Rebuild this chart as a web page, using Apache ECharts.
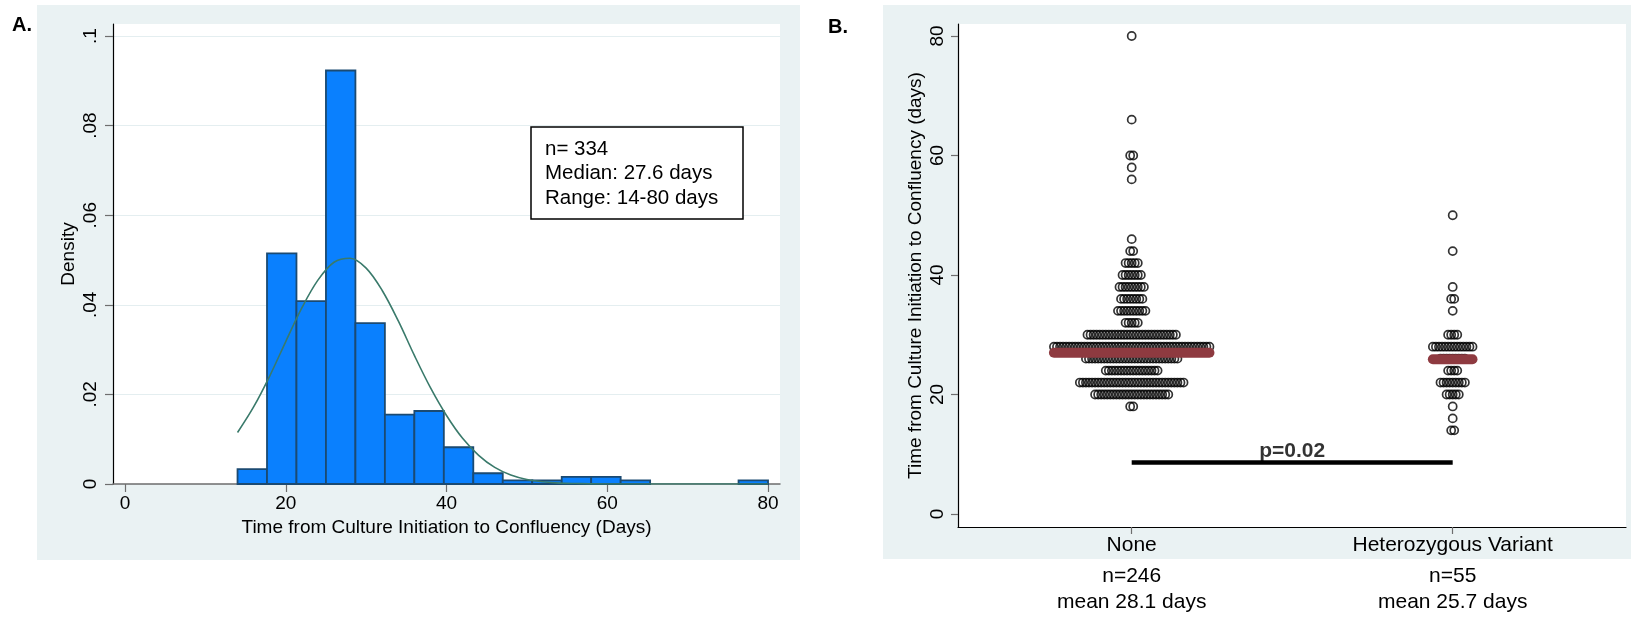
<!DOCTYPE html>
<html><head><meta charset="utf-8">
<script src="https://cdn.jsdelivr.net/npm/echarts@6/dist/echarts.min.js"></script>
<style>html,body{margin:0;padding:0;background:#fff}#c{width:1631px;height:618px}</style>
</head><body><div id="c"></div>
<script>
// ---------- Panel A: histogram ----------
const binEdges = [14, 17.667, 21.333, 25, 28.667, 32.333, 36, 39.667, 43.333, 47, 50.667, 54.333, 58, 61.667, 65.333, 69, 72.667, 76.333, 80];
const binDensity = [0.0033, 0.0515, 0.0408, 0.0923, 0.0359, 0.0155, 0.0163, 0.0082, 0.0024, 0.0008, 0.0008, 0.0016, 0.0016, 0.0008, 0, 0, 0, 0.0008];
const curveX = [14, 16, 18, 20, 22, 24, 26, 28, 30, 32, 34, 36, 38, 40, 42, 44, 46, 48, 50, 52, 54, 56, 60, 70, 80];
const curveY = [0.0115, 0.0172, 0.0241, 0.0318, 0.0393, 0.0455, 0.0495, 0.0504, 0.0482, 0.0432, 0.0364, 0.0287, 0.0215, 0.0153, 0.0102, 0.0064, 0.0037, 0.0020, 0.0010, 0.0005, 0.0002, 0.0001, 0, 0, 0];
const xTicksA = [0, 20, 40, 60, 80];
const yTicksA = [0, 0.02, 0.04, 0.06, 0.08, 0.1];
const annotationLines = ['n= 334', 'Median: 27.6 days', 'Range: 14-80 days'];

// ---------- Panel B: dot plot ----------
const groupNames = ['None', 'Heterozygous Variant'];
const groupN = ['n=246', 'n=55'];
const groupMeanText = ['mean 28.1 days', 'mean 25.7 days'];
const noneValues = [80, 66, 60, 58, 56, 46, 44, 42, 40, 38, 36, 34, 32, 30, 28, 26, 24, 22, 20, 18];
const noneCounts = [1, 1, 2, 1, 1, 1, 2, 5, 7, 9, 8, 10, 5, 30, 52, 31, 18, 35, 25, 2];
const hetValues = [50, 44, 38, 36, 34, 30, 28, 26, 24, 22, 20, 18, 16, 14];
const hetCounts = [1, 1, 1, 2, 1, 4, 14, 9, 4, 9, 5, 1, 1, 2];
const groupLineValues = [27.0, 25.9];
const yTicksB = [0, 20, 40, 60, 80];
const pValueText = 'p=0.02';
const pBarY = 8.6;

const FONT = '"Liberation Sans", Arial, Helvetica, sans-serif';
const dotStep = 0.0095; // horizontal spacing of stacked dots (x-axis units)

const histData = binDensity.map((d, i) => [binEdges[i], binEdges[i + 1], d]);
const curveData = curveX.map((x, i) => [x, curveY[i]]);

function dotRows(center, values, counts) {
  const pts = [];
  values.forEach((v, r) => {
    const n = counts[r];
    for (let i = 0; i < n; i++) pts.push([center + (i - (n - 1) / 2) * dotStep, v]);
  });
  return pts;
}
const noneDots = dotRows(1, noneValues, noneCounts);
const hetDots = dotRows(2, hetValues, hetCounts);
const maxN = [Math.max(...noneCounts), Math.max(...hetCounts)];
const groupLines = [1, 2].map((c, g) => {
  const hw = (maxN[g] - 1) / 2 * dotStep;
  return [[c - hw, groupLineValues[g]], [c + hw, groupLineValues[g]]];
});

const chart = echarts.init(document.getElementById('c'), null, { renderer: 'canvas' });

const greyTick = { color: '#6e6e6e', width: 1.2 };
const option = {
  animation: false,
  backgroundColor: '#ffffff',
  textStyle: { fontFamily: FONT },
  graphic: [
    { type: 'rect', z: -100, shape: { x: 37, y: 5, width: 763, height: 555 }, style: { fill: '#eaf2f3' } },
    { type: 'rect', z: -100, shape: { x: 883, y: 5, width: 748, height: 554 }, style: { fill: '#eaf2f3' } },
    { type: 'text', left: 12, top: 15, style: { text: 'A.', font: 'bold 20px ' + FONT, fill: '#000' } },
    { type: 'text', left: 828, top: 17, style: { text: 'B.', font: 'bold 20px ' + FONT, fill: '#000' } },
    { type: 'rect', z: 100, shape: { x: 531, y: 127, width: 212, height: 92 }, style: { fill: '#fff', stroke: '#000', lineWidth: 1.5 } },
    { type: 'text', z: 101, left: 545, top: 137, style: { text: annotationLines.join('\n'), font: '20.5px ' + FONT, lineHeight: 24.5, fill: '#000' } }
  ],
  grid: [
    { left: 113, top: 24, width: 667, height: 460, show: true, backgroundColor: '#fff', borderWidth: 0 },
    { left: 958, top: 24, width: 668, height: 503, show: true, backgroundColor: '#fff', borderWidth: 0 }
  ],
  xAxis: [
    {
      gridIndex: 0, type: 'value', min: -1.493, max: 81.49,
      axisLine: { onZero: false, lineStyle: { color: '#6e6e6e', width: 1.5 } },
      axisTick: { customValues: xTicksA, length: 8, lineStyle: greyTick },
      axisLabel: { customValues: xTicksA, fontSize: 19, color: '#000', margin: 10, fontFamily: FONT },
      splitLine: { show: false },
      name: 'Time from Culture Initiation to Confluency (Days)', nameLocation: 'middle', nameGap: 32,
      nameTextStyle: { fontSize: 19, color: '#000', fontFamily: FONT }
    },
    {
      gridIndex: 1, type: 'value', min: 0.4589, max: 2.5399,
      axisLine: { onZero: false, lineStyle: { color: '#000', width: 1.2 } },
      axisTick: { customValues: [1, 2], length: 7, lineStyle: greyTick },
      axisLabel: {
        customValues: [1, 2], margin: 0, color: '#000', fontFamily: FONT,
        formatter: v => {
          const g = Math.round(v) - 1;
          return '{c|' + groupNames[g] + '}\n{s|' + groupN[g] + '}\n{s|' + groupMeanText[g] + '}';
        },
        rich: {
          c: { fontSize: 21, lineHeight: 36, color: '#000', fontFamily: FONT },
          s: { fontSize: 21, lineHeight: 26, color: '#000', fontFamily: FONT }
        }
      },
      splitLine: { show: false }
    }
  ],
  yAxis: [
    {
      gridIndex: 0, type: 'value', min: 0, max: 0.10268,
      axisLine: { show: true, onZero: false, lineStyle: { color: '#000', width: 1.2 } },
      axisTick: { show: true, customValues: yTicksA, length: 8, lineStyle: greyTick },
      axisLabel: {
        customValues: yTicksA, rotate: 90, fontSize: 19, color: '#000', margin: 13, fontFamily: FONT,
        formatter: v => v === 0 ? '0' : String(v).replace(/^0/, '')
      },
      splitLine: { show: true, lineStyle: { color: '#e4eef0', width: 1.2 } },
      name: 'Density', nameLocation: 'middle', nameGap: 35,
      nameTextStyle: { fontSize: 19, color: '#000', fontFamily: FONT }
    },
    {
      gridIndex: 1, type: 'value', min: -2.176, max: 82.01,
      axisLine: { show: true, onZero: false, lineStyle: { color: '#000', width: 1.2 } },
      axisTick: { show: true, customValues: yTicksB, length: 7, lineStyle: greyTick },
      axisLabel: { customValues: yTicksB, rotate: 90, fontSize: 19, color: '#000', margin: 11, fontFamily: FONT },
      splitLine: { show: false },
      name: 'Time from Culture Initiation to Confluency (days)', nameLocation: 'middle', nameGap: 33,
      nameTextStyle: { fontSize: 19, color: '#000', fontFamily: FONT }
    }
  ],
  series: [
    {
      type: 'custom', xAxisIndex: 0, yAxisIndex: 0, data: histData,
      encode: { x: [0, 1], y: 2 },
      renderItem: (params, api) => {
        const h = api.value(2);
        if (!h) return null;
        const p0 = api.coord([api.value(0), h]);
        const p1 = api.coord([api.value(1), 0]);
        return {
          type: 'rect',
          shape: { x: p0[0], y: p0[1], width: p1[0] - p0[0], height: p1[1] - p0[1] },
          style: { fill: '#0a80fe', stroke: '#1b4a72', lineWidth: 1.8 }
        };
      }
    },
    {
      type: 'line', xAxisIndex: 0, yAxisIndex: 0, data: curveData, smooth: 0.35,
      showSymbol: false, lineStyle: { color: '#3a7a6b', width: 1.6 }, z: 5
    },
    {
      type: 'scatter', xAxisIndex: 1, yAxisIndex: 1, data: noneDots.concat(hetDots),
      symbol: 'circle', symbolSize: 8.1,
      itemStyle: { color: 'rgba(0,0,0,0)', borderColor: '#000', borderWidth: 1.7 }
    },
    ...groupLines.map(seg => ({
      type: 'line', xAxisIndex: 1, yAxisIndex: 1, data: seg, showSymbol: false, symbol: 'none', z: 6,
      lineStyle: { color: '#8e3a40', width: 10, cap: 'round' }
    })),
    {
      type: 'line', xAxisIndex: 1, yAxisIndex: 1, data: [[1, pBarY], [2, pBarY]], showSymbol: false, symbol: 'none',
      lineStyle: { color: '#000', width: 4.5 }
    },
    {
      type: 'scatter', xAxisIndex: 1, yAxisIndex: 1, data: [[1.5, pBarY]], symbolSize: 0,
      label: { show: true, position: 'top', distance: 1, formatter: pValueText, fontSize: 21, fontWeight: 'bold', color: '#000', fontFamily: FONT }
    }
  ]
};
chart.setOption(option);
</script></body></html>
